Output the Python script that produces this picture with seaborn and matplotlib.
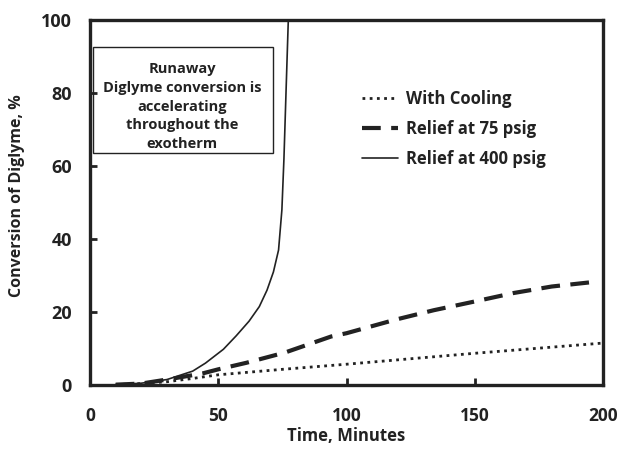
import pandas as pd
import matplotlib
matplotlib.use('Agg')
import matplotlib.pyplot as plt
from matplotlib.patches import Rectangle
import seaborn as sns

sns.set_style('ticks')
plt.rcParams['font.family'] = ['Open Sans', 'DejaVu Sans']
plt.rcParams['font.weight'] = 'bold'

# values
time_cooling = [10, 20, 30, 40, 50, 75, 100, 125, 150, 175, 200]
conv_cooling = [0.1, 0.4, 0.9, 1.8, 2.8, 4.3, 5.7, 7.2, 8.7, 10.1, 11.5]

time_75 = [10, 20, 30, 40, 44, 50, 61, 76, 94, 100, 119, 134, 150, 165, 180, 197]
conv_75 = [0.1, 0.4, 1.5, 2.7, 3.2, 4.3, 6.1, 8.9, 13.3, 14.2, 17.9, 20.5, 22.9, 25.2, 27.0, 28.3]

time_400 = [10, 20, 30, 40, 45, 52, 57, 62, 66, 69, 71.5, 73.5, 74.8, 75.6, 76.4, 77.3]
conv_400 = [0.1, 0.5, 1.5, 3.8, 6, 9.8, 13.5, 17.5, 21.5, 26, 31, 37, 48, 62, 80, 100]

series_names = ['With Cooling', 'Relief at 75 psig', 'Relief at 400 psig']
x_ticks = [0, 50, 100, 150, 200]
y_ticks = [0, 20, 40, 60, 80, 100]
note = 'Runaway\nDiglyme conversion is\naccelerating\nthroughout the\nexotherm'

fig = plt.figure(figsize=(6.21, 4.49), dpi=100)
ax = fig.add_axes([0.145, 0.1425, 0.826, 0.8125])

sns.lineplot(x=time_cooling, y=conv_cooling, ax=ax, color='#222222',
             linestyle=(0, (1, 1.6)), linewidth=2.0, label=series_names[0])
sns.lineplot(x=time_75, y=conv_75, ax=ax, color='#222222',
             linestyle=(0, (4.5, 2.5)), linewidth=3.0, label=series_names[1])
sns.lineplot(x=time_400, y=conv_400, ax=ax, color='#222222',
             linewidth=1.2, label=series_names[2])

ax.set_xlim(0, 200)
ax.set_ylim(0, 100)
ax.set_xticks(x_ticks)
ax.set_yticks(y_ticks)
for s in ax.spines.values():
    s.set_linewidth(2.4)
    s.set_color('#222222')
ax.tick_params(axis='both', direction='in', length=5, width=2, labelsize=13,
               colors='#222222')
ax.tick_params(axis='x', pad=16, labelsize=12.5)
ax.tick_params(axis='y', pad=13)
ax.set_xlabel('Time, Minutes', fontsize=12, fontweight='bold', color='#222222', labelpad=1)
ax.set_ylabel('Conversion of Diglyme, %', fontsize=11.5, fontweight='bold', color='#222222')
ax.yaxis.set_label_coords(-0.127, 0.52)

# note box; the text spills slightly below it as in the original
ax.add_patch(Rectangle((0.006, 0.637), 0.35, 0.29, transform=ax.transAxes,
                       fill=False, edgecolor='#222222', linewidth=1))
ax.text(0.18, 0.763, note, transform=ax.transAxes, ha='center', va='center',
        fontsize=10.5, fontweight='bold', color='#222222', linespacing=1.42)

leg = ax.legend(loc='upper left', bbox_to_anchor=(0.5, 0.85), frameon=False,
                fontsize=12, handlelength=2.2, handletextpad=0.45, labelspacing=0.72)
for t in leg.get_texts():
    t.set_fontweight('bold')
    t.set_color('#222222')

fig.savefig('out.png', dpi=100)
